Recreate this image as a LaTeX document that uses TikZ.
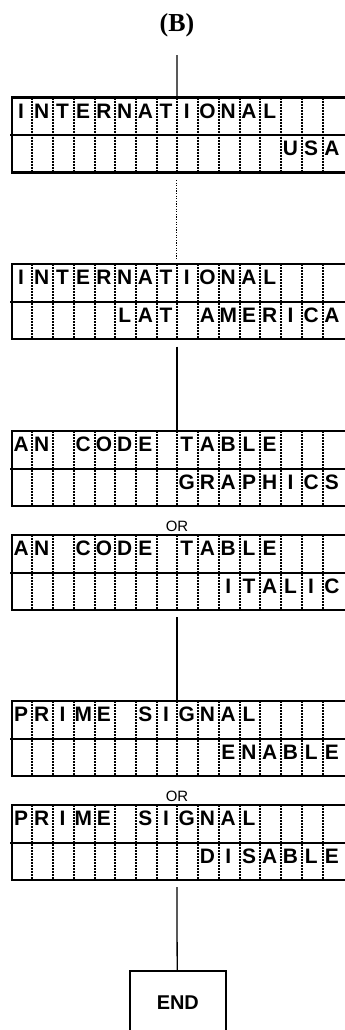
\documentclass[tikz,border=0pt]{standalone}
\usepackage{fontspec}
\setmainfont{Liberation Sans}
\newfontfamily\titlefont{Liberation Serif}
\tikzset{
 lcdbox/.style={draw, line width=2.2bp, minimum width=334bp, minimum height=75bp, inner sep=0pt, outer sep=0pt, anchor=north west},
 midline/.style={line width=2bp},
 celldots/.style={line width=2bp, dash pattern=on 2bp off 1bp},
 lcdchar/.style={anchor=base, inner sep=0pt, font=\fontsize{21}{21}\selectfont\bfseries},
 conn/.style={line width=1.3bp},
 dotconn/.style={line width=1.1bp, dash pattern=on 1.1bp off 1.5bp},
 ortext/.style={font=\fontsize{15}{15}\selectfont, inner sep=0pt},
 endbox/.style={draw, line width=1.6bp, minimum width=95.7bp, minimum height=64bp, inner sep=0pt, outer sep=0pt, anchor=north, font=\fontsize{20}{20}\selectfont\bfseries},
 titlestyle/.style={inner sep=0pt, font=\titlefont\bfseries\fontsize{26}{26}\selectfont},
}
\newcommand\lcdline[5]{%
  \foreach \c [count=\i from #3] in {#5}{%
    \pgfmathsetmacro\xx{(\i-0.5)*20.72-1.0}%
    \node[lcdchar] (#1#2\i) at ([xshift=\xx bp, yshift=-#4 bp]#1.north west) {\c};}%
}
\begin{document}
\begin{tikzpicture}[x=1bp,y=-1bp]
\useasboundingbox (0,0) rectangle (344,1030);
% title
\node[titlestyle] (title) at (177,25) {(B)};
% boxes
\node[lcdbox] (b1) at (11.7,97.5) {};
\node[lcdbox] (b2) at (11.7,264) {};
\node[lcdbox] (b3) at (11.7,431) {};
\node[lcdbox] (b4) at (11.7,535) {};
\node[lcdbox] (b5) at (11.7,701) {};
\node[lcdbox] (b6) at (11.7,805) {};
\foreach \b in {b1,b2,b3,b4,b5,b6}{%
  \foreach \k in {1,...,15}{%
    \pgfmathsetmacro\dx{\k*20.72}%
    \draw[celldots] ([xshift=\dx bp]\b.north west) -- ([xshift=\dx bp]\b.south west);}
  \draw[midline] ([xshift=-1.7bp]\b.west) -- (\b.east);
}
% texts
\lcdline{b1}{a}{1}{20.5}{I,N,T,E,R,N,A,T,I,O,N,A,L}
\lcdline{b1}{b}{14}{58}{U,S,A}
\lcdline{b2}{a}{1}{20.5}{I,N,T,E,R,N,A,T,I,O,N,A,L}
\lcdline{b2}{b}{6}{58}{L,A,T,{},A,M,E,R,I,C,A}
\lcdline{b3}{a}{1}{20.5}{A,N,{},C,O,D,E,{},T,A,B,L,E}
\lcdline{b3}{b}{9}{58}{G,R,A,P,H,I,C,S}
\lcdline{b4}{a}{1}{20.5}{A,N,{},C,O,D,E,{},T,A,B,L,E}
\lcdline{b4}{b}{11}{58}{I,T,A,L,I,C}
\lcdline{b5}{a}{1}{20.5}{P,R,I,M,E,{},S,I,G,N,A,L}
\lcdline{b5}{b}{11}{58}{E,N,A,B,L,E}
\lcdline{b6}{a}{1}{20.5}{P,R,I,M,E,{},S,I,G,N,A,L}
\lcdline{b6}{b}{10}{58}{D,I,S,A,B,L,E}
% OR labels
\node[ortext] (or1) at (177,526.5) {OR};
\node[ortext] (or2) at (177,796.5) {OR};
% end box
\node[endbox] (end) at (177.85,970.7) {END};
% connectors
\coordinate (t0) at (176.9,55);
\draw[conn] (t0) -- ([xshift=165.2bp]b1.north west);
\draw[dotconn] ([xshift=165.2bp,yshift=-7.5bp]b1.south west) -- ([xshift=165.2bp,yshift=4bp]b2.north west);
\draw[conn] ([xshift=165.2bp,yshift=-7.5bp]b2.south west) -- ([xshift=165.2bp]b3.north west);
\draw[conn] ([xshift=165.2bp,yshift=-7bp]b4.south west) -- ([xshift=165.2bp]b5.north west);
\draw[conn] ([xshift=165.2bp,yshift=-7bp]b6.south west) -- ([xshift=-0.65bp]end.north);
\end{tikzpicture}
\end{document}
